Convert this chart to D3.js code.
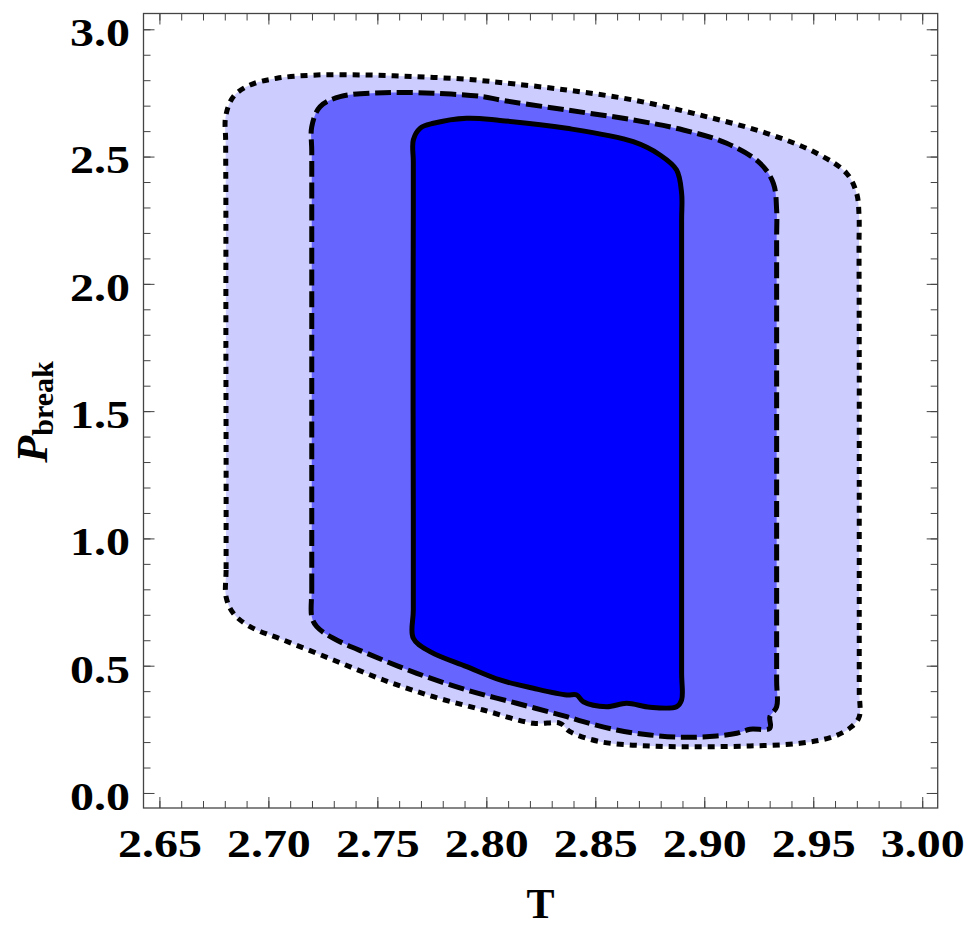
<!DOCTYPE html>
<html>
<head>
<meta charset="UTF-8">
<title>P_break vs T contours</title>
<script src="https://d3js.org/d3.v7.min.js"></script>
<style>
  body { margin: 0; background: #fff; }
  svg text { font-family: "Liberation Serif", "Times New Roman", serif; font-weight: bold; fill: #000; }
</style>
</head>
<body>
<svg width="972" height="926"></svg>
<script>
// contour levels, as [T, P] pairs
const outerContour = [
  [2.6806, 0.770], [2.6806, 0.880], [2.6806, 1.300], [2.6805, 1.800], [2.6805, 2.300],
  [2.6804, 2.560], [2.6804, 2.657], [2.6839, 2.735], [2.6916, 2.781], [2.7039, 2.8075],
  [2.7222, 2.8204], [2.7451, 2.8204], [2.7681, 2.8138], [2.7910, 2.8036], [2.8063, 2.791],
  [2.8369, 2.7615], [2.8674, 2.7222], [2.8980, 2.6633], [2.9286, 2.5914], [2.9516, 2.5129],
  [2.9653, 2.4343], [2.9699, 2.3557], [2.9710, 2.2705], [2.9710, 2.150], [2.9711, 1.700],
  [2.9711, 1.200], [2.9711, 0.700], [2.9711, 0.400], [2.9711, 0.2997], [2.9676, 0.2604],
  [2.9592, 0.2212], [2.9439, 0.1952], [2.9210, 0.1846], [2.8980, 0.1819], [2.8751, 0.1846],
  [2.8522, 0.2015], [2.8384, 0.2408], [2.8338, 0.2738], [2.8216, 0.2738], [2.7986, 0.3260],
  [2.7757, 0.3783], [2.7528, 0.4439], [2.7298, 0.5225], [2.7069, 0.6010], [2.6916, 0.6533],
  [2.6839, 0.7059]
];
const middleContour = [
  [2.7199, 0.6925], [2.7199, 0.800], [2.7199, 1.200], [2.7199, 1.700], [2.7199, 2.200],
  [2.7199, 2.520], [2.7199, 2.6174], [2.7237, 2.6959], [2.7329, 2.7352], [2.7528, 2.7509],
  [2.7757, 2.7486], [2.7986, 2.7352], [2.8063, 2.7222], [2.8369, 2.6830], [2.8674, 2.6437],
  [2.8904, 2.6044], [2.9103, 2.5521], [2.9256, 2.4736], [2.9317, 2.3950], [2.9332, 2.2901],
  [2.9332, 2.180], [2.9332, 1.700], [2.9332, 1.200], [2.9332, 0.750], [2.9332, 0.440],
  [2.9332, 0.3390], [2.9301, 0.2997], [2.9301, 0.2542], [2.9210, 0.2502], [2.9149, 0.2345],
  [2.9057, 0.2239], [2.8904, 0.2188], [2.8751, 0.2278], [2.8598, 0.2475], [2.8445, 0.2801],
  [2.8369, 0.2997], [2.8139, 0.3524], [2.7910, 0.4046], [2.7681, 0.4702], [2.7451, 0.5488],
  [2.7298, 0.6077], [2.7222, 0.6533]
];
const innerContour = [
  [2.7665, 0.6077], [2.7665, 0.720], [2.7665, 1.100], [2.7664, 1.500], [2.7664, 1.900],
  [2.7665, 2.300], [2.7665, 2.480], [2.7665, 2.5651], [2.7696, 2.6111], [2.7757, 2.6307],
  [2.7910, 2.6504], [2.8063, 2.6420], [2.8369, 2.6111], [2.8674, 2.5584], [2.8797, 2.5062],
  [2.8873, 2.4473], [2.8896, 2.3557], [2.8896, 2.250], [2.8896, 1.800], [2.8896, 1.300],
  [2.8896, 0.800], [2.8896, 0.470], [2.8896, 0.3653], [2.8873, 0.3390], [2.8751, 0.3366],
  [2.8644, 0.3524], [2.8552, 0.3390], [2.8445, 0.3586], [2.8415, 0.3850], [2.8369, 0.3850],
  [2.8216, 0.4113], [2.8063, 0.4439], [2.7910, 0.4961], [2.7742, 0.5551]
];

const xTicks = [2.65, 2.70, 2.75, 2.80, 2.85, 2.90, 2.95, 3.00];
const yTicks = [0.0, 0.5, 1.0, 1.5, 2.0, 2.5, 3.0];
const xMinor = d3.range(0, 36).map(i => +(2.65 + i * 0.01).toFixed(2));
const yMinor = d3.range(0, 31).map(i => +(i * 0.1).toFixed(1));

const svg = d3.select("svg");
const frame = { left: 143.5, right: 937.7, top: 13.5, bottom: 808 };

const x = d3.scaleLinear().domain([2.6427, 3.0071]).range([frame.left, frame.right]);
const y = d3.scaleLinear().domain([-0.059, 3.062]).range([frame.bottom, frame.top]);

const area = d3.line()
  .x(d => x(d[0]))
  .y(d => y(d[1]))
  .curve(d3.curveCatmullRomClosed.alpha(0.5));

const levels = [
  { pts: outerContour, fill: "#ccccff", dash: "7,6" },
  { pts: middleContour, fill: "#6666ff", dash: "16,5.7" },
  { pts: innerContour, fill: "#0000ff", dash: null }
];

svg.selectAll(".fill")
  .data(levels)
  .enter()
  .append("path")
  .attr("class", "fill")
  .attr("fill", d => d.fill)
  .attr("stroke", "none")
  .attr("d", d => area(d.pts));

svg.selectAll(".edge")
  .data(levels)
  .enter()
  .append("path")
  .attr("class", "edge")
  .attr("fill", "none")
  .attr("stroke", "#000")
  .attr("stroke-width", 5)
  .attr("stroke-dasharray", d => d.dash)
  .attr("d", d => area(d.pts));

// frame with inward ticks on all four sides
const axisColor = "#444";
function styleAxis(g) {
  g.select(".domain").remove();
  g.selectAll("line").attr("stroke", axisColor).attr("stroke-width", 1);
}

svg.append("rect")
  .attr("x", frame.left).attr("y", frame.top)
  .attr("width", frame.right - frame.left).attr("height", frame.bottom - frame.top)
  .attr("fill", "none").attr("stroke", axisColor).attr("stroke-width", 1.3);

const sides = [
  { gen: d3.axisBottom, scale: x, at: `translate(0,${frame.bottom})`, major: xTicks, minor: xMinor },
  { gen: d3.axisTop, scale: x, at: `translate(0,${frame.top})`, major: xTicks, minor: xMinor },
  { gen: d3.axisLeft, scale: y, at: `translate(${frame.left},0)`, major: yTicks, minor: yMinor },
  { gen: d3.axisRight, scale: y, at: `translate(${frame.right},0)`, major: yTicks, minor: yMinor }
];
sides.forEach(s => {
  svg.append("g").attr("transform", s.at)
    .call(s.gen(s.scale).tickValues(s.minor).tickSize(-7).tickFormat(""))
    .call(styleAxis);
  svg.append("g").attr("transform", s.at)
    .call(s.gen(s.scale).tickValues(s.major).tickSize(-11).tickFormat(""))
    .call(styleAxis);
});

// tick labels
const stretch = 1.17;
const xLab = svg.append("g")
  .attr("transform", `translate(0,${frame.bottom})`)
  .call(d3.axisBottom(x).tickValues(xTicks).tickSize(0).tickFormat(d3.format(".2f")));
xLab.select(".domain").remove();
xLab.selectAll("text")
  .attr("y", 49).attr("dy", null)
  .attr("font-size", 41)
  .attr("font-family", null)
  .attr("transform", `scale(${stretch},1)`);

const yLab = svg.append("g")
  .attr("transform", `translate(${frame.left},0)`)
  .call(d3.axisLeft(y).tickValues(yTicks).tickSize(0).tickFormat(d3.format(".1f")));
yLab.select(".domain").remove();
yLab.selectAll("text")
  .attr("x", -13.5 / stretch).attr("dy", "0.4em")
  .attr("font-size", 41)
  .attr("font-family", null)
  .attr("transform", `scale(${stretch},1)`);

// axis titles
svg.append("text")
  .attr("x", (frame.left + frame.right) / 2)
  .attr("y", 918)
  .attr("text-anchor", "middle")
  .attr("font-size", 42)
  .text("T");

const yTitle = svg.append("text")
  .attr("transform", "rotate(-90)")
  .attr("x", -412)
  .attr("y", 46.7)
  .attr("text-anchor", "middle");
yTitle.append("tspan").attr("font-size", 44).attr("font-style", "italic").text("P");
yTitle.append("tspan").attr("font-size", 30).attr("dy", 6.6).text("break");
</script>
</body>
</html>
